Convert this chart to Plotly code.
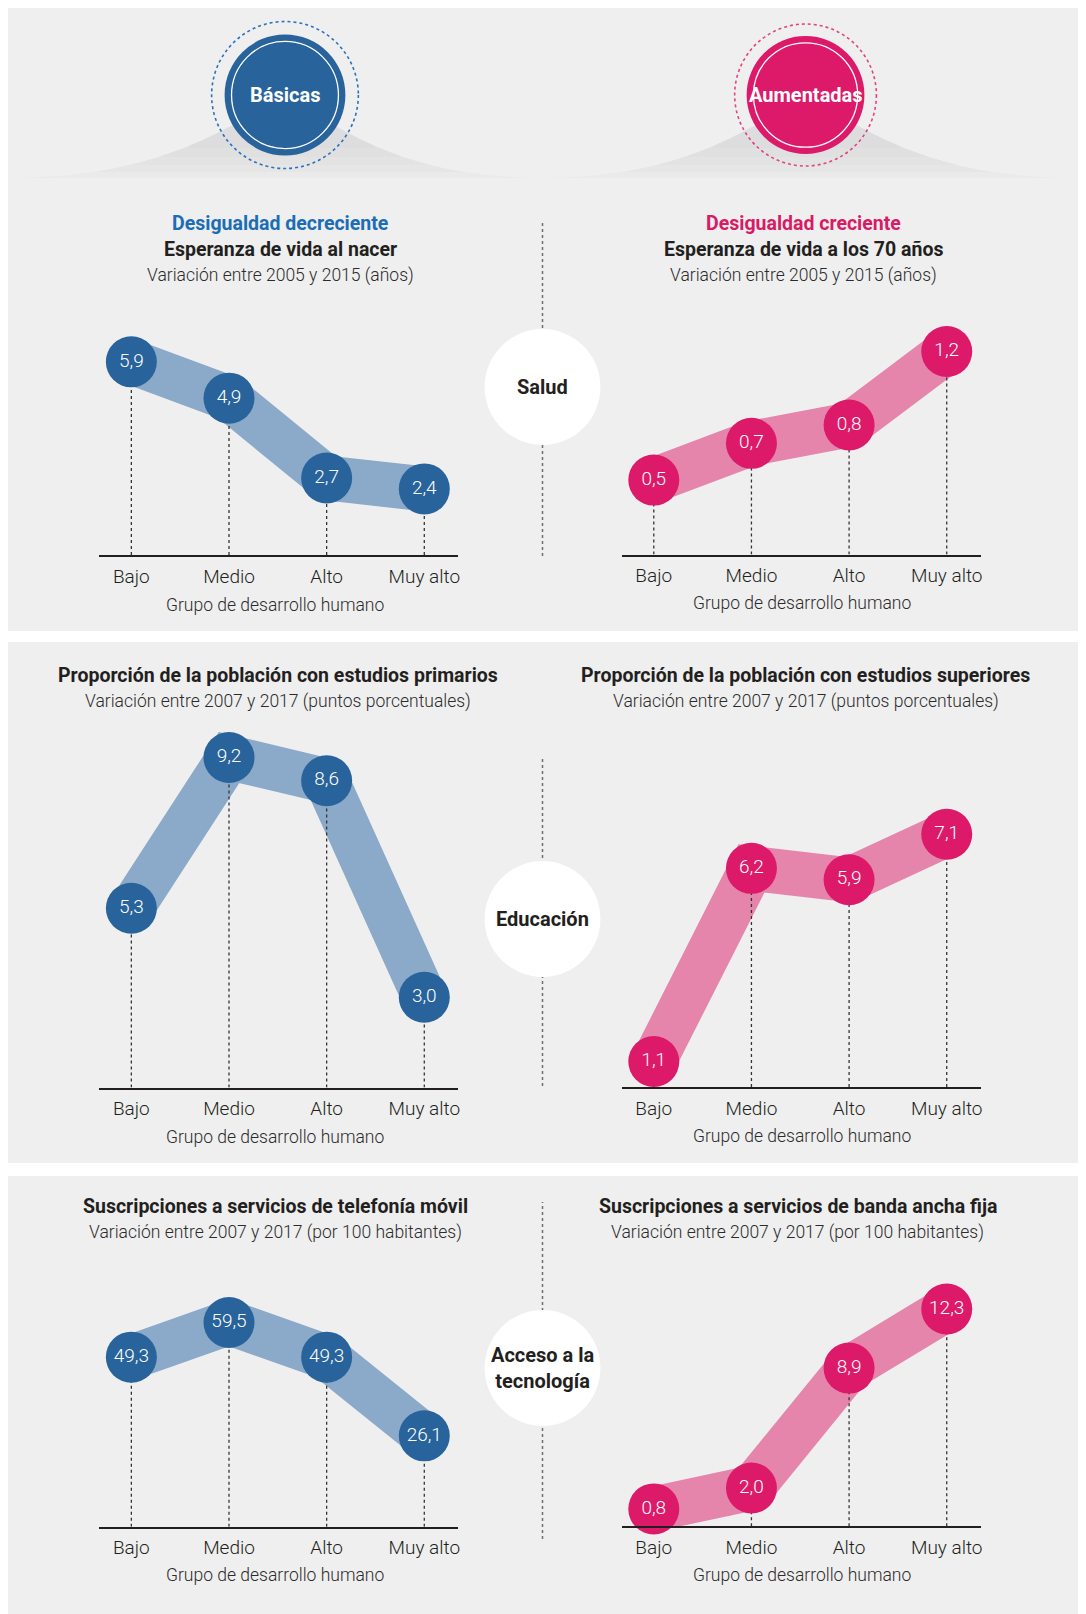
import plotly.graph_objects as go

W, H = 1086, 1614
OFF = 8  # page body margin of the exported html

# ---------------- DATA ----------------
categories = ["Bajo", "Medio", "Alto", "Muy alto"]
esperanza_nacer = [5.9, 4.9, 2.7, 2.4]
esperanza_70 = [0.5, 0.7, 0.8, 1.2]
estudios_primarios = [5.3, 9.2, 8.6, 3.0]
estudios_superiores = [1.1, 6.2, 5.9, 7.1]
telefonia_movil = [49.3, 59.5, 49.3, 26.1]
banda_ancha = [0.8, 2.0, 8.9, 12.3]

titles = [
    "Esperanza de vida al nacer",
    "Esperanza de vida a los 70 años",
    "Proporción de la población con estudios primarios",
    "Proporción de la población con estudios superiores",
    "Suscripciones a servicios de telefonía móvil",
    "Suscripciones a servicios de banda ancha fija",
]
subtitles = [
    "Variación entre 2005 y 2015 (años)",
    "Variación entre 2005 y 2015 (años)",
    "Variación entre 2007 y 2017 (puntos porcentuales)",
    "Variación entre 2007 y 2017 (puntos porcentuales)",
    "Variación entre 2007 y 2017 (por 100 habitantes)",
    "Variación entre 2007 y 2017 (por 100 habitantes)",
]
section_labels = ["Salud", "Educación", "Acceso a la<br>tecnología"]
header_labels = ["Básicas", "Aumentadas"]
trend_labels = ["Desigualdad decreciente", "Desigualdad creciente"]
axis_title = "Grupo de desarrollo humano"

# ---------------- STYLE / LAYOUT ----------------
FONT = "Roboto, Liberation Sans, sans-serif"
BLUE = "#28639b"
BLUE_BAND = "#8ba9c8"
BLUE_TXT = "#1b6db5"
PINK = "#dc1a69"
PINK_BAND = "#e585ab"
PINK_TXT = "#d81b65"
DARK = "#231f20"
SUB = "#2b2b2b"
PANEL = "#efefef"


def px(x):
    return (x - OFF) / W


def py(y):
    return 1 - (y - OFF) / H


# per-chart pixel geometry: axis bottom B, top T, zero-pixel P0, px per unit s
charts = [
    dict(values=esperanza_nacer, side="L", B=555, T=300, P0=576, s=36.3),
    dict(values=esperanza_70, side="R", B=554.5, T=300, P0=572, s=183.8),
    dict(values=estudios_primarios, side="L", B=1087.5, T=720, P0=1113.2, s=38.66),
    dict(values=estudios_superiores, side="R", B=1087, T=720, P0=1103.1, s=37.86),
    dict(values=telefonia_movil, side="L", B=1526.7, T=1250, P0=1524.4, s=3.393),
    dict(values=banda_ancha, side="R", B=1526.3, T=1250, P0=1522.8, s=17.38),
]
XDOM = {"L": (99.3, 459.3), "R": (622.7, 982.7)}
XRANGE = [-0.33, 3.35]

fig = go.Figure()
layout = dict(
    width=W, height=H, margin=dict(l=0, r=0, t=0, b=0),
    paper_bgcolor="white", plot_bgcolor="rgba(0,0,0,0)",
    showlegend=False, font=dict(family=FONT, color=DARK),
)

for i, c in enumerate(charts, start=1):
    vals = c["values"]
    xs = list(range(len(categories)))
    ymin = (c["P0"] - c["B"]) / c["s"]
    ymax = (c["P0"] - c["T"]) / c["s"]
    xa = "x" if i == 1 else f"x{i}"
    ya = "y" if i == 1 else f"y{i}"
    col = BLUE if c["side"] == "L" else PINK
    band = BLUE_BAND if c["side"] == "L" else PINK_BAND
    # band
    fig.add_trace(go.Scatter(x=xs, y=vals, mode="lines", xaxis=xa, yaxis=ya,
                             line=dict(color=band, width=45), cliponaxis=False,
                             hoverinfo="skip"))
    # drop lines
    dx, dy = [], []
    for xi, v in zip(xs, vals):
        dx += [xi, xi, None]
        dy += [ymin, v, None]
    fig.add_trace(go.Scatter(x=dx, y=dy, mode="lines", xaxis=xa, yaxis=ya,
                             line=dict(color="#333333", width=1.3, dash="dot"),
                             hoverinfo="skip"))
    # circles
    fig.add_trace(go.Scatter(
        x=xs, y=vals, mode="markers+text", xaxis=xa, yaxis=ya,
        marker=dict(size=51, color=col, line=dict(width=0)),
        text=[f"{v:.1f}".replace(".", ",") for v in vals],
        textposition="middle center",
        textfont=dict(family=FONT, size=19, color="white", weight=300),
        cliponaxis=False, hoverinfo="skip"))
    xd = XDOM[c["side"]]
    key = "" if i == 1 else str(i)
    layout["xaxis" + key] = dict(
        domain=[px(xd[0]), px(xd[1])], range=XRANGE, anchor=ya,
        showgrid=False, zeroline=False, showline=True, linecolor=DARK,
        linewidth=1.5, ticks="", tickmode="array", tickvals=xs,
        ticktext=categories,
        tickfont=dict(family=FONT, size=19, color=DARK, weight=300),
        ticklabelstandoff=3, fixedrange=True)
    layout["yaxis" + key] = dict(
        domain=[py(c["B"]), py(c["T"])], range=[ymin, ymax], anchor=xa,
        visible=False, fixedrange=True)

shapes = []
annotations = []


def note(x, y, text, size, color, weight=400):
    annotations.append(dict(x=px(x), y=py(y), xref="paper", yref="paper",
                            text=text, showarrow=False,
                            xanchor="center", yanchor="middle",
                            font=dict(family=FONT, size=size, color=color,
                                      weight=weight)))


# panels
for (y0, y1) in [(3, 631), (642, 1163), (1176, 1630)]:
    shapes.append(dict(type="rect", xref="paper", yref="paper", layer="below",
                       x0=px(8), x1=px(1080), y0=py(y1), y1=py(y0),
                       fillcolor=PANEL, line=dict(width=0)))


# header mounds (layered for a soft gradient)
def bez(p0, p1, p2, p3, n=40):
    pts = []
    for k in range(n + 1):
        t = k / n
        a, b, cc, d = (1 - t) ** 3, 3 * (1 - t) ** 2 * t, 3 * (1 - t) * t ** 2, t ** 3
        pts.append((a * p0[0] + b * p1[0] + cc * p2[0] + d * p3[0],
                    a * p0[1] + b * p1[1] + cc * p2[1] + d * p3[1]))
    return pts


def mound_points(xl, cx, xr, base=178, peak=100):
    dl, dr = cx - xl, xr - cx
    left = bez((xl, base), (xl + 0.6 * dl, base - 1), (cx - 0.2 * dl, 120), (cx, peak))
    right = bez((cx, peak), (cx + 0.2 * dr, 120), (xr - 0.6 * dr, base - 1), (xr, base))
    return left + right[1:]


mound_layers = [(178, "#eaeaeb"), (172, "#e6e6e7"), (165, "#e3e3e4"),
                (157, "#e0e0e1"), (148, "#dddddf")]
for (xl, cx, xr) in [(10, 285.5, 543), (543, 807, 1076)]:
    pts = mound_points(xl, cx, xr)
    for ycut, colr in mound_layers:
        sel = [(x, y) for x, y in pts if y <= ycut]
        if not sel:
            continue
        path = f"M {px(sel[0][0])},{py(ycut)} "
        path += " ".join(f"L {px(x)},{py(y)}" for x, y in sel)
        path += f" L {px(sel[-1][0])},{py(ycut)} Z"
        shapes.append(dict(type="path", xref="paper", yref="paper", layer="below",
                           path=path, fillcolor=colr, line=dict(width=0)))

# header circles
for (cx, cy, r, rr, colr, ring, lab) in [
        (285.5, 95, 60.5, 73.5, BLUE, "#2a72bb", header_labels[0]),
        (807, 95, 59, 71, PINK, "#e0457e", header_labels[1])]:
    shapes.append(dict(type="circle", xref="paper", yref="paper", layer="below",
                       x0=px(cx - rr), x1=px(cx + rr), y0=py(cy + rr), y1=py(cy - rr),
                       line=dict(color=ring, width=1.6, dash="dot")))
    shapes.append(dict(type="circle", xref="paper", yref="paper", layer="below",
                       x0=px(cx - r), x1=px(cx + r), y0=py(cy + r), y1=py(cy - r),
                       fillcolor=colr, line=dict(width=0)))
    ri = r * 0.885
    shapes.append(dict(type="circle", xref="paper", yref="paper", layer="below",
                       x0=px(cx - ri), x1=px(cx + ri), y0=py(cy + ri), y1=py(cy - ri),
                       line=dict(color="white", width=1.3)))
    note(cx, cy, f"<b>{lab}</b>", 20, "white", 700)

# central dotted lines & section circles
for (ytop, ybot, cy, lab) in [(221, 556, 387, section_labels[0]),
                              (757, 1086, 919, section_labels[1]),
                              (1202, 1539, 1368, section_labels[2])]:
    shapes.append(dict(type="line", xref="paper", yref="paper", layer="below",
                       x0=px(543.5), x1=px(543.5), y0=py(ybot), y1=py(ytop),
                       line=dict(color="#6f6f6f", width=1.5, dash="dot")))
    r = 58
    shapes.append(dict(type="circle", xref="paper", yref="paper", layer="below",
                       x0=px(543.5 - r), x1=px(543.5 + r), y0=py(cy + r), y1=py(cy - r),
                       fillcolor="white", line=dict(width=0)))
    note(543.5, cy, f"<b>{lab}</b>", 20, DARK, 700)

# trend labels (row 1)
note(281, 224, f"<b>{trend_labels[0]}</b>", 19.5, BLUE_TXT, 700)
note(804.5, 224, f"<b>{trend_labels[1]}</b>", 19.5, PINK_TXT, 700)

# titles and subtitles
title_pos = [(281, 250, 276), (804.5, 250, 276),
             (278.5, 675, 701), (807, 675, 701),
             (275.5, 1206.5, 1232), (799, 1206.5, 1232)]
for k, (x, yt, ys) in enumerate(title_pos):
    note(x, yt, f"<b>{titles[k]}</b>", 19.5, DARK, 700)
    note(x, ys, subtitles[k], 17.5, SUB, 300)

# axis titles
for (x, y) in [(275, 605), (803.7, 603), (275, 1136.5), (803.7, 1136),
               (275, 1575), (803.7, 1575)]:
    note(x, y, axis_title, 17.5, SUB, 300)

layout["shapes"] = shapes
layout["annotations"] = annotations
fig.update_layout(**layout)
fig.write_html("out.html")
